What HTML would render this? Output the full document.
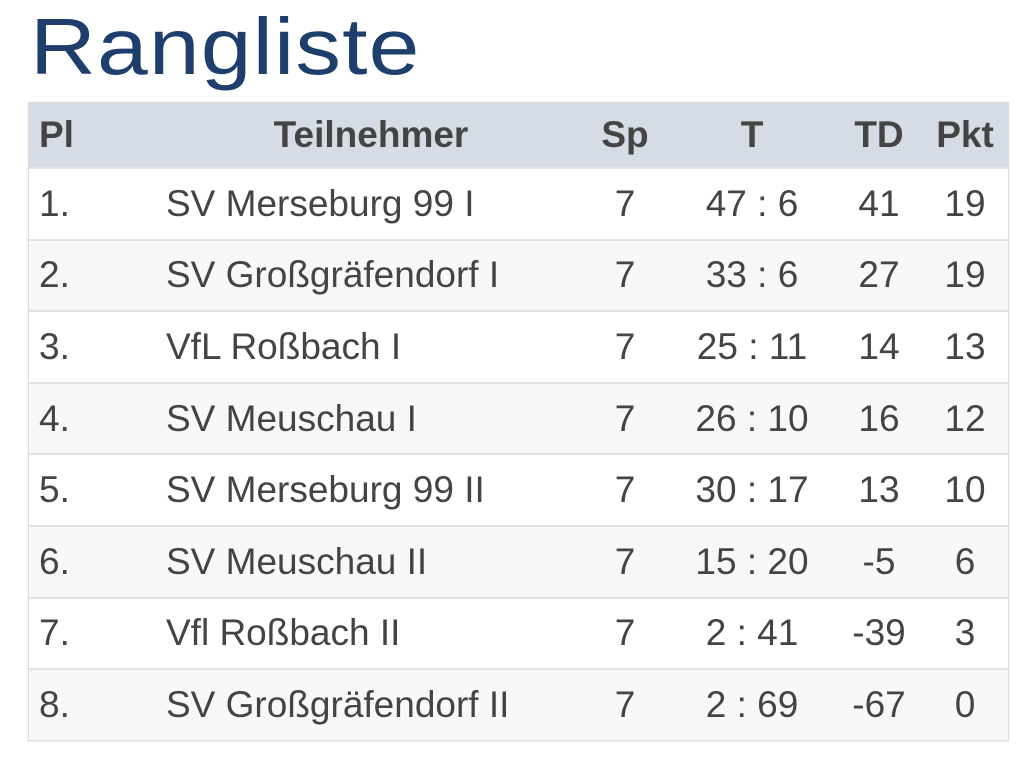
<!DOCTYPE html>
<html><head><meta charset="utf-8"><style>
body{margin:0;width:1026px;height:763px;background:#fff;font-family:"Liberation Sans",sans-serif;color:#444;position:relative;overflow:hidden}
.t{position:absolute;left:30px;top:2px;font-size:80px;color:#1e3f6b;line-height:90px;letter-spacing:1px;transform:scaleX(1.14);transform-origin:left}
.tbl{position:absolute;left:28px;top:102px;width:979px;border:1px solid #dcdcdc;box-shadow:0 0 3px rgba(0,0,0,.08)}
.r{position:relative;height:71.6px;border-top:2px solid #e2e2e2;box-sizing:border-box;font-size:37px;background:#fff}
.r:nth-child(odd){background:#f8f8f8}
.tbl .r.h{height:64px;background:#d5dce5;border-top:none;font-weight:bold}
.r>span{position:absolute;top:50%;transform:translate(-50%,-50%);white-space:nowrap}
.r>span.l{transform:translate(0,-50%)}
</style></head><body>
<div class="t">Rangliste</div>
<div class="tbl">
<div class="r h"><span class="l" style="left:10px">Pl</span><span style="left:342px">Teilnehmer</span><span style="left:596px">Sp</span><span style="left:723px">T</span><span style="left:850px">TD</span><span style="left:936px">Pkt</span></div>
<div class="r"><span class="l" style="left:10px">1.</span><span class="l" style="left:137px">SV Merseburg 99 I</span><span style="left:596px">7</span><span style="left:723px">47 : 6</span><span style="left:850px">41</span><span style="left:936px">19</span></div>
<div class="r"><span class="l" style="left:10px">2.</span><span class="l" style="left:137px">SV Großgräfendorf I</span><span style="left:596px">7</span><span style="left:723px">33 : 6</span><span style="left:850px">27</span><span style="left:936px">19</span></div>
<div class="r"><span class="l" style="left:10px">3.</span><span class="l" style="left:137px">VfL Roßbach I</span><span style="left:596px">7</span><span style="left:723px">25 : 11</span><span style="left:850px">14</span><span style="left:936px">13</span></div>
<div class="r"><span class="l" style="left:10px">4.</span><span class="l" style="left:137px">SV Meuschau I</span><span style="left:596px">7</span><span style="left:723px">26 : 10</span><span style="left:850px">16</span><span style="left:936px">12</span></div>
<div class="r"><span class="l" style="left:10px">5.</span><span class="l" style="left:137px">SV Merseburg 99 II</span><span style="left:596px">7</span><span style="left:723px">30 : 17</span><span style="left:850px">13</span><span style="left:936px">10</span></div>
<div class="r"><span class="l" style="left:10px">6.</span><span class="l" style="left:137px">SV Meuschau II</span><span style="left:596px">7</span><span style="left:723px">15 : 20</span><span style="left:850px">-5</span><span style="left:936px">6</span></div>
<div class="r"><span class="l" style="left:10px">7.</span><span class="l" style="left:137px">Vfl Roßbach II</span><span style="left:596px">7</span><span style="left:723px">2 : 41</span><span style="left:850px">-39</span><span style="left:936px">3</span></div>
<div class="r"><span class="l" style="left:10px">8.</span><span class="l" style="left:137px">SV Großgräfendorf II</span><span style="left:596px">7</span><span style="left:723px">2 : 69</span><span style="left:850px">-67</span><span style="left:936px">0</span></div>
</div>
</body></html>
